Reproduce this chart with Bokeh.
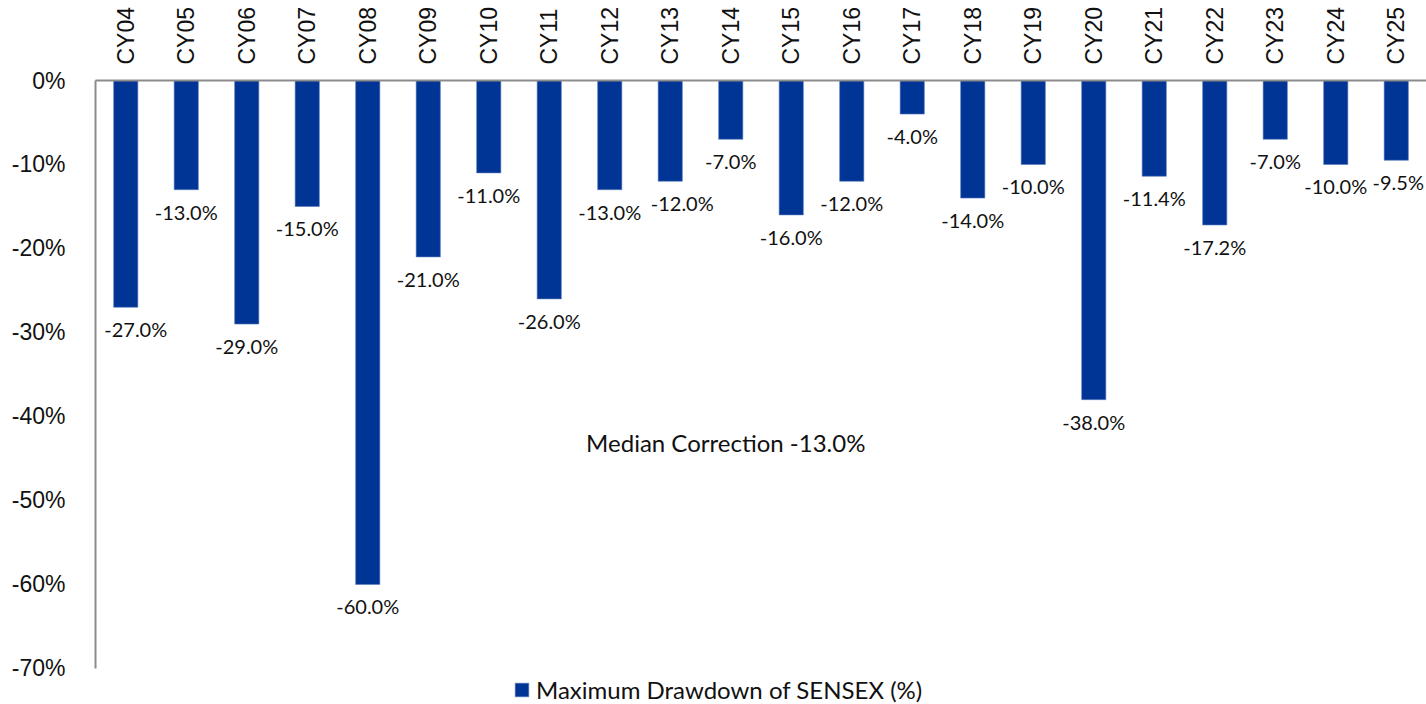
import math
from bokeh.plotting import figure
from bokeh.models import (FactorRange, Range1d, FixedTicker, PrintfTickFormatter,
                          ColumnDataSource, Legend, LegendItem)
from bokeh.core.properties import value
from bokeh.embed import file_html
from bokeh.resources import INLINE

# ---- data ----
years = ["CY04", "CY05", "CY06", "CY07", "CY08", "CY09", "CY10", "CY11", "CY12",
         "CY13", "CY14", "CY15", "CY16", "CY17", "CY18", "CY19", "CY20", "CY21",
         "CY22", "CY23", "CY24", "CY25"]
drawdown = [-27.0, -13.0, -29.0, -15.0, -60.0, -21.0, -11.0, -26.0, -13.0,
            -12.0, -7.0, -16.0, -12.0, -4.0, -14.0, -10.0, -38.0, -11.4,
            -17.2, -7.0, -10.0, -9.5]
y_ticks = [0, -10, -20, -30, -40, -50, -60, -70]
series_name = "Maximum Drawdown of SENSEX (%)"
median_text = "Median Correction -13.0%"

# horizontal nudges (px) of a few data labels, as in the source chart
label_nudge = [10, 0, 0, 0, 0, 0, 0, 0, 0,
               12, 0, 0, 0, 0, 0, 0, 0, 0,
               0, 0, 0, 2]

BAR = "#003595"
AXIS = "#8c8c8c"

src = ColumnDataSource(dict(year=years, val=drawdown, dx=label_nudge,
                            lbl=["%.1f%%" % v for v in drawdown]))

# frame extends below -70% to host the legend; the axis line stops at -70%
p = figure(width=1426, height=704,
           x_range=FactorRange(*years), y_range=Range1d(-74.29, 0),
           x_axis_location="above",
           output_backend="svg", toolbar_location=None,
           min_border_left=95, min_border_right=0, min_border_top=80,
           min_border_bottom=0)
p.x_range.range_padding = 0
p.outline_line_color = None
p.xgrid.grid_line_color = None
p.ygrid.grid_line_color = None
p.background_fill_color = "white"
p.border_fill_color = "white"

r = p.vbar(x="year", top=0, bottom="val", width=0.4, source=src,
           fill_color=BAR, line_color="#5a7cc0", line_width=0.6)

p.text(x="year", y="val", text="lbl", source=src, x_offset="dx",
       text_align="center", text_baseline="top", y_offset=10,
       text_font=value("Lato"), text_font_size="20px", text_color="#111111")

p.text(x=["CY14"], y=[-43.1], text=[median_text], x_offset=-5,
       text_align="center", text_baseline="middle", text_font=value("Lato"),
       text_font_size="24px", text_color="#111111")

# axes
xa = p.xaxis[0]
xa.major_label_orientation = math.pi / 2
xa.major_tick_line_color = None
xa.minor_tick_line_color = None
xa.axis_line_color = AXIS
xa.axis_line_width = 2
xa.major_label_standoff = 10
xa.major_label_text_font = "Liberation Sans"
xa.major_label_text_font_size = "23px"
xa.major_label_text_color = "#111111"

ya = p.yaxis[0]
ya.bounds = (-70, 0)
ya.ticker = FixedTicker(ticks=y_ticks)
ya.formatter = PrintfTickFormatter(format="%d%%")
ya.major_tick_line_color = None
ya.minor_tick_line_color = None
ya.axis_line_color = AXIS
ya.axis_line_width = 2
ya.major_label_standoff = 24
ya.major_label_text_font = "Liberation Sans"
ya.major_label_text_font_size = "23px"
ya.major_label_text_color = "#111111"

legend = Legend(items=[LegendItem(label=series_name, renderers=[r])],
                location=(418, 0), orientation="horizontal")
legend.label_text_font = "Lato"
legend.label_text_font_size = "24px"
legend.label_text_color = "#111111"
legend.glyph_width = 17
legend.glyph_height = 17
legend.border_line_color = None
legend.background_fill_alpha = 0
legend.margin = 0
legend.padding = 2
legend.label_standoff = 6
p.add_layout(legend, "center")

open("out.html", "w").write(file_html(p, INLINE))
